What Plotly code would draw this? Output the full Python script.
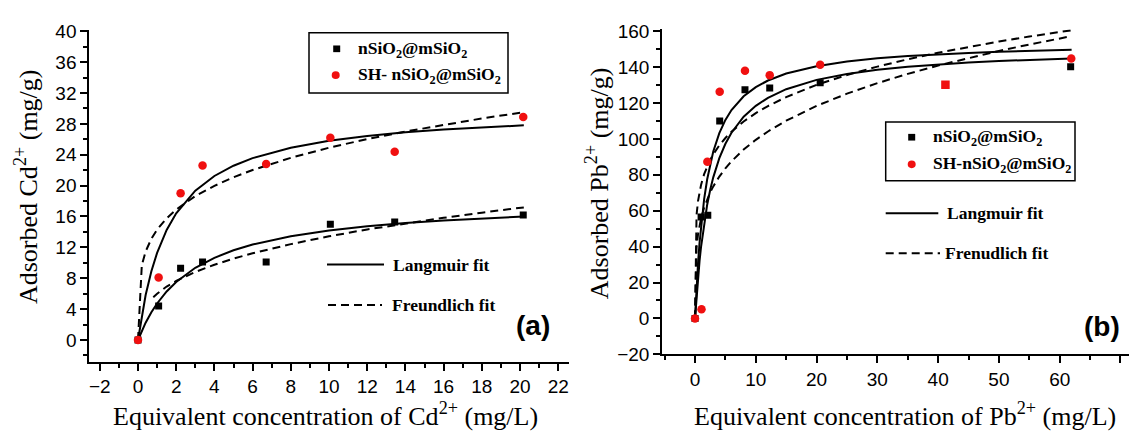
import plotly.graph_objects as go

# ---------------- data ----------------
# (a) Cd2+
cd_x = [0, 1.08, 2.23, 3.38, 6.71, 10.07, 13.44, 20.17]
cd_n = [0, 4.4, 9.3, 10.1, 10.1, 15.0, 15.3, 16.2]
cd_sh = [0, 8.1, 19.0, 22.6, 22.8, 26.2, 24.4, 28.9]

cd_fit_x = [0, 0.2, 0.4, 0.7, 1, 1.5, 2, 3, 4, 5, 6, 8, 10, 12, 14, 16, 18, 20.2]
cd_n_lang = [0, 1.19, 2.24, 3.59, 4.73, 6.29, 7.52, 9.35, 10.65, 11.62, 12.37, 13.45,
             14.20, 14.75, 15.17, 15.49, 15.76, 16.0]
cd_sh_lang = [0, 3.22, 5.83, 8.90, 11.29, 14.26, 16.42, 19.35, 21.25, 22.58, 23.56, 24.91,
              25.80, 26.43, 26.90, 27.26, 27.55, 27.81]
cd_sh_freu = [0, 9.70, 11.47, 13.12, 14.3, 15.77, 16.90, 18.64, 19.97, 21.08, 22.02, 23.60,
              24.91, 26.03, 27.01, 27.90, 28.70, 29.51]
cd_n_freu_x = [0.8, 1, 1.5, 2, 3, 4, 5, 6, 8, 10, 12, 14, 16, 18, 20.2]
cd_n_freu = [5.55, 6.0, 6.92, 7.65, 8.81, 9.75, 10.54, 11.23, 12.42, 13.43, 14.32, 15.11,
             15.83, 16.50, 17.18]

# (b) Pb2+
pb_n_x = [0, 1.0, 2.1, 4.06, 8.22, 12.29, 20.59, 41.2, 61.8]
pb_n = [0, 56.5, 57.5, 110.0, 127.4, 128.3, 131.2, 130.1, 140.2]
pb_sh_x = [0, 1.07, 2.03, 4.06, 8.22, 12.29, 20.59, 41.2, 61.9]
pb_sh = [0, 5.1, 87.2, 126.2, 137.9, 135.5, 141.3, 130.1, 144.8]
pb_sh_symbols = ["circle"] * 7 + ["square", "circle"]

pb_fit_x = [0, 0.25, 0.5, 0.75, 1, 1.5, 2, 2.5, 3, 4, 5, 6, 8, 10, 12, 15, 20, 25, 30, 35,
            40, 45, 50, 55, 61.96]
pb_lang_a = [0, 17.28, 31.08, 42.35, 51.74, 66.47, 77.51, 86.08, 92.93, 103.20, 110.54,
             116.03, 123.72, 128.83, 132.49, 136.36, 140.46, 143.05, 144.83, 146.12,
             147.10, 147.88, 148.51, 149.02, 149.61]
pb_lang_b = [0, 12.49, 23.08, 32.17, 40.05, 53.05, 63.33, 71.67, 78.56, 89.29, 97.27,
             103.42, 112.31, 118.41, 122.86, 127.66, 132.85, 136.17, 138.48, 140.18,
             141.48, 142.51, 143.34, 144.03, 144.81]
pb_freu_a = [0, 57.57, 65.49, 70.62, 74.5, 80.33, 84.75, 88.34, 91.39, 96.42, 100.49,
             103.96, 109.68, 114.33, 118.28, 123.28, 130.06, 135.58, 140.25, 144.33,
             147.96, 151.24, 154.22, 156.99, 160.50]
pb_freu_b = [0, 39.40, 46.89, 51.91, 55.8, 61.78, 66.41, 70.23, 73.52, 79.02, 83.58,
             87.49, 94.04, 99.46, 104.11, 110.11, 118.36, 125.17, 131.03, 136.21,
             140.85, 145.07, 148.96, 152.56, 157.21]

legend_n = "nSiO<sub>2</sub>@mSiO<sub>2</sub>"
legend_sh_a = "SH- nSiO<sub>2</sub>@mSiO<sub>2</sub>"
legend_sh_b = "SH-nSiO<sub>2</sub>@mSiO<sub>2</sub>"

# ---------------- figure ----------------
W, H = 1129, 442
SERIF = "Liberation Serif, Times New Roman, serif"
SANS = "Liberation Sans, Arial, sans-serif"
RED = "#f01010"

def px(x):
    return x / W

def py(y):
    return 1 - y / H

fig = go.Figure()

line_solid = dict(color="black", width=2)
line_dash = dict(color="black", width=2, dash="8px,5px")

# panel (a)
fig.add_trace(go.Scatter(x=cd_fit_x, y=cd_n_lang, mode="lines", line=line_solid, xaxis="x", yaxis="y"))
fig.add_trace(go.Scatter(x=cd_fit_x, y=cd_sh_lang, mode="lines", line=line_solid, xaxis="x", yaxis="y"))
fig.add_trace(go.Scatter(x=cd_n_freu_x, y=cd_n_freu, mode="lines", line=line_dash, xaxis="x", yaxis="y"))
fig.add_trace(go.Scatter(x=cd_fit_x, y=cd_sh_freu, mode="lines", line=line_dash, xaxis="x", yaxis="y"))
fig.add_trace(go.Scatter(x=cd_x, y=cd_n, mode="markers", xaxis="x", yaxis="y",
                         marker=dict(symbol="square", size=7, color="black")))
fig.add_trace(go.Scatter(x=cd_x, y=cd_sh, mode="markers", xaxis="x", yaxis="y",
                         marker=dict(symbol="circle", size=8.5, color=RED)))

# panel (b)
fig.add_trace(go.Scatter(x=pb_fit_x, y=pb_lang_a, mode="lines", line=line_solid, xaxis="x2", yaxis="y2"))
fig.add_trace(go.Scatter(x=pb_fit_x, y=pb_lang_b, mode="lines", line=line_solid, xaxis="x2", yaxis="y2"))
fig.add_trace(go.Scatter(x=pb_fit_x, y=pb_freu_a, mode="lines", line=line_dash, xaxis="x2", yaxis="y2"))
fig.add_trace(go.Scatter(x=pb_fit_x, y=pb_freu_b, mode="lines", line=line_dash, xaxis="x2", yaxis="y2"))
fig.add_trace(go.Scatter(x=pb_n_x, y=pb_n, mode="markers", xaxis="x2", yaxis="y2",
                         marker=dict(symbol="square", size=7, color="black")))
fig.add_trace(go.Scatter(x=pb_sh_x, y=pb_sh, mode="markers", xaxis="x2", yaxis="y2",
                         marker=dict(symbol=pb_sh_symbols, size=8.5, color=RED)))

axis_common = dict(showline=True, linecolor="black", linewidth=2, ticks="outside",
                   ticklen=7, tickwidth=2, tickcolor="black", showgrid=False,
                   zeroline=False, tickfont=dict(family=SANS, size=19, color="black"))

fig.update_layout(
    width=W, height=H, margin=dict(l=0, r=0, t=0, b=0),
    paper_bgcolor="white", plot_bgcolor="white", showlegend=False,
    xaxis=dict(domain=[px(89.3), px(568.7)], range=[-2.55, 22.55], anchor="y",
               dtick=2, tick0=0,
               minor=dict(ticks="outside", ticklen=4, tickwidth=1.5, tickcolor="black", dtick=1, tick0=0),
               **axis_common),
    yaxis=dict(domain=[py(369.3), py(21.7)], range=[-2.8, 40.2], anchor="x",
               dtick=4, tick0=0,
               minor=dict(ticks="outside", ticklen=4, tickwidth=1.5, tickcolor="black", dtick=2, tick0=0),
               **axis_common),
    xaxis2=dict(domain=[px(662.2), 1.0], range=[-5.4, 71.4], anchor="y2",
                dtick=10, tick0=0,
                minor=dict(ticks="outside", ticklen=4, tickwidth=1.5, tickcolor="black", dtick=5, tick0=0),
                **axis_common),
    yaxis2=dict(domain=[py(361.7), py(21.3)], range=[-20, 161], anchor="x2",
                dtick=20, tick0=0,
                minor=dict(ticks="outside", ticklen=4, tickwidth=1.5, tickcolor="black", dtick=10, tick0=0),
                **axis_common),
)

shapes = []
annotations = []

def text(x, y, s, size, family, bold=False, anchor="left", angle=0):
    annotations.append(dict(
        x=px(x), y=py(y), xref="paper", yref="paper", text=("<b>%s</b>" % s) if bold else s,
        showarrow=False, xanchor=anchor, yanchor="middle", textangle=angle,
        font=dict(family=family, size=size, color="black")))

def rect(x0, y0, x1, y1, fill=None, width=1.5):
    shapes.append(dict(type="rect", xref="paper", yref="paper",
                       x0=px(x0), x1=px(x1), y0=py(y1), y1=py(y0),
                       line=dict(color="black" if fill is None else fill, width=width if fill is None else 0),
                       fillcolor=fill if fill else "rgba(0,0,0,0)"))

def circ(cx, cy, r, fill):
    shapes.append(dict(type="circle", xref="paper", yref="paper",
                       x0=px(cx - r), x1=px(cx + r), y0=py(cy + r), y1=py(cy - r),
                       line=dict(width=0), fillcolor=fill))

def hline(x0, x1, y, dash="solid"):
    shapes.append(dict(type="line", xref="paper", yref="paper",
                       x0=px(x0), x1=px(x1), y0=py(y), y1=py(y),
                       line=dict(color="black", width=2, dash=dash)))

LEG = 17.5

# legend (a)
rect(309, 25, 508, 88)
rect(333.2, 38.2, 340.2, 45.2, fill="black")
circ(335.7, 69.3, 4, RED)
text(356, 42, legend_n, LEG, SERIF, bold=True)
text(356, 70, legend_sh_a, LEG, SERIF, bold=True)
hline(327, 384, 267.7)
text(391, 267.7, "Langmuir fit", LEG, SERIF, bold=True)
hline(328, 382, 310, dash="8px,5px")
text(390, 310, "Freundlich fit", LEG, SERIF, bold=True)

# legend (b)
rect(885.7, 118.3, 1075, 180)
rect(908.2, 130.8, 915.2, 137.8, fill="black")
circ(911.7, 162.7, 4, RED)
text(931, 135, legend_n, LEG, SERIF, bold=True)
text(931, 163, legend_sh_b, LEG, SERIF, bold=True)
hline(885.7, 938.3, 214)
text(945, 214, "Langmuir fit", LEG, SERIF, bold=True)
hline(885.7, 940, 255.7, dash="8px,5px")
text(943, 255.7, "Frenudlich fit", LEG, SERIF, bold=True)

# panel labels
text(533, 331.7, "(a)", 28, SANS, bold=True, anchor="center")
text(1101.5, 333, "(b)", 28, SANS, bold=True, anchor="center")

# axis titles
text(325, 425, "Equivalent concentration of Cd<sup>2+</sup> (mg/L)", 26, SERIF, anchor="center")
text(905, 425, "Equivalent concentration of Pb<sup>2+</sup> (mg/L)", 26, SERIF, anchor="center")
text(26, 186.5, "Adsorbed Cd<sup>2+</sup> (mg/g)", 26, SERIF, anchor="center", angle=-90)
text(597, 182.5, "Adsorbed Pb<sup>2+</sup> (mg/g)", 26, SERIF, anchor="center", angle=-90)

fig.update_layout(shapes=shapes, annotations=annotations)

fig.write_html("out.html")
